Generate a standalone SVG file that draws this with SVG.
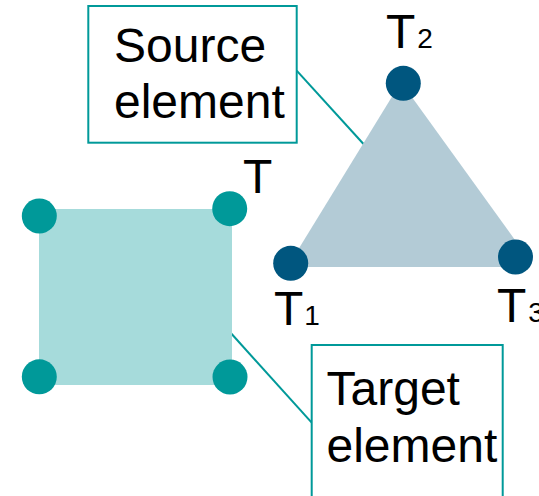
<svg xmlns="http://www.w3.org/2000/svg" width="539" height="496" viewBox="0 0 539 496">
<style>
.lbl{font-family:"Liberation Sans",Arial,sans-serif;fill:#000;}
.big{font-size:48px;}
.sub{font-size:28px;}
.box{fill:#fff;stroke:#009999;stroke-width:2;}
.lead{stroke:#009999;stroke-width:2;fill:none;}
.tc{fill:#009999;}
.sc{fill:#00567f;}
</style>
<rect width="539" height="496" fill="#fff"/>
<g id="connectors">
<line class="lead" x1="296.7" y1="70.7" x2="363.5" y2="144"/>
<line class="lead" x1="229" y1="331" x2="311.7" y2="422.7"/>
</g>
<g id="target-element-shape">
<rect x="39" y="209" width="193" height="176" fill="#a6dbdb"/>
<circle class="tc" cx="39.3" cy="216" r="17.5"/>
<circle class="tc" cx="229.7" cy="208.7" r="17.5"/>
<circle class="tc" cx="39.3" cy="376.8" r="17.5"/>
<circle class="tc" cx="230" cy="377" r="17.5"/>
<text class="lbl big" x="243" y="192.5">T</text>
</g>
<g id="source-element-shape">
<polygon points="401,82 528,258 515,267 287.5,267" fill="#b3cbd6"/>
<circle class="sc" cx="403.3" cy="83.3" r="17.5"/>
<circle class="sc" cx="290.7" cy="263.3" r="17.5"/>
<circle class="sc" cx="515.5" cy="257" r="17.5"/>
<text class="lbl big" x="386" y="48.3">T<tspan class="sub" dx="2">2</tspan></text>
<text class="lbl big" x="274" y="325">T<tspan class="sub" dx="1">1</tspan></text>
<text class="lbl big" x="497" y="321.7">T<tspan class="sub" dx="2">3</tspan></text>
</g>
<g id="source-label">
<rect class="box" x="88.3" y="6" width="208.4" height="136.7"/>
<text class="lbl big" x="114" y="61.7">Source</text>
<text class="lbl big" x="114" y="118.3">element</text>
</g>
<g id="target-label">
<rect class="box" x="311.7" y="345" width="191" height="170"/>
<text class="lbl big" x="326.5" y="405">Target</text>
<text class="lbl big" x="326.5" y="461.7">element</text>
</g>
</svg>
